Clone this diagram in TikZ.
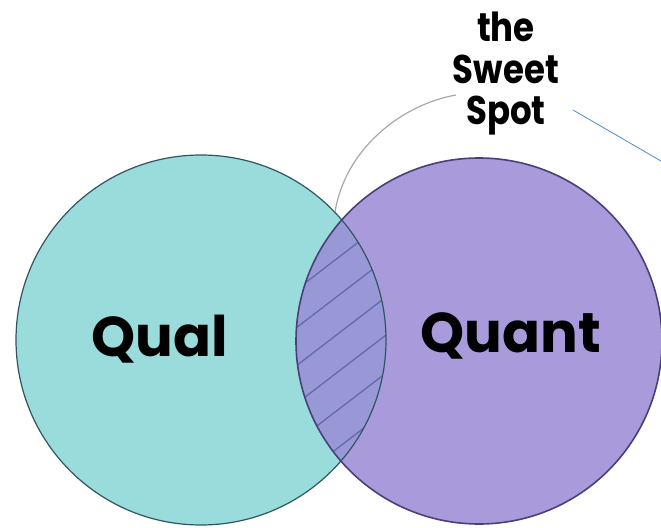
\documentclass[tikz,border=0pt]{standalone}
\usepackage{fontspec}
\usepackage{tikz}
\usetikzlibrary{positioning, backgrounds}
\newfontfamily\handfont{Poppins}
\newcommand{\squeeze}[1]{\scalebox{0.85}[1]{#1}}
\definecolor{qualteal}{HTML}{9ADCDC}
\definecolor{quantlilac}{HTML}{A99ADB}
\definecolor{lensblue}{HTML}{9898D6}
\definecolor{hatchblue}{HTML}{6868B2}
\definecolor{rimteal}{HTML}{2F5560}
\definecolor{rimlilac}{HTML}{4A3F78}
\definecolor{leadgray}{HTML}{A8A8A8}
\definecolor{strayblue}{HTML}{4F8ACB}

\begin{document}
\begin{tikzpicture}[x=0.75pt, y=-0.75pt,
    word/.style={font=\handfont\bfseries\fontsize{42}{46}\selectfont, inner sep=0pt},
    note/.style={font=\handfont\bfseries\fontsize{30}{31}\selectfont, inner sep=0pt, align=center}]
        \useasboundingbox (0,0) rectangle (661,528);

        % Relleno de los dos conjuntos
        \fill[qualteal] (201,340) circle (185);
        \fill[quantlilac] (479,341) circle (183);

        % Zona comun (rayada)
        \begin{scope}
            \clip (201,340) circle (185);
            \clip (479,341) circle (183);
            \fill[lensblue] (279,200) rectangle (410,480);
            \foreach \k in {0,...,6}
                \draw[hatchblue, line width=1pt]
                    (283,{300+38*\k}) -- (403,{208+38*\k});
        \end{scope}

        % Contornos
        \draw[rimteal, line width=0.9pt] (201,340) circle (185);
        \draw[rimlilac, line width=1.2pt] (479,341) circle (183);

        % Etiquetas de los conjuntos
        \node[word, anchor=base] (qual_label) at (160,356) {Qual};
        \node[word, anchor=base] (quant_label) at (511,352) {Quant};

        % Etiqueta superior y su trazo
        \node[note, anchor=north] (sweet_label) at (506,12)
            {\squeeze{the}\\\squeeze{Sweet}\\\squeeze{Spot}};
        \coordinate (lead_start) at (456,95);
        \coordinate (lens_top) at (335,212);
        \draw[leadgray, line width=0.9pt] (lead_start)
            .. controls (400,105) and (345,150) .. (lens_top);

        % Linea azul suelta
        \coordinate (stray_a) at (573,110);
        \coordinate (stray_b) at (661,161);
        \draw[strayblue, line width=0.6pt] (stray_a) -- (stray_b);
    \end{tikzpicture}
\end{document}
